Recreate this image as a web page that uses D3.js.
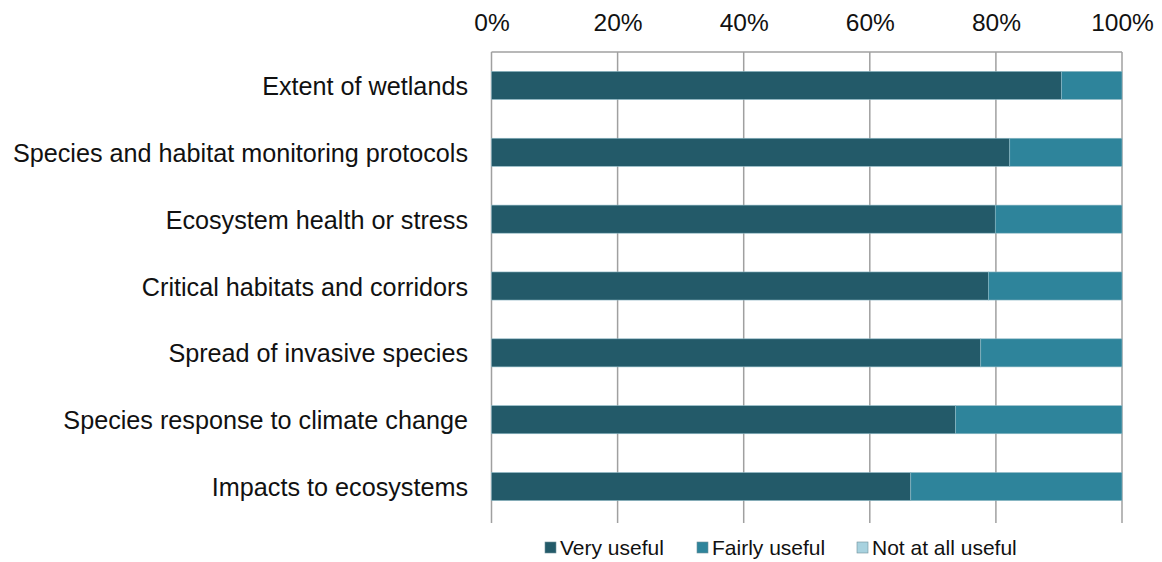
<!DOCTYPE html>
<html><head><meta charset="utf-8">
<script src="https://cdn.jsdelivr.net/npm/d3@7"></script>
<style>body{margin:0;background:#fff}svg{display:block}text{font-family:"Liberation Sans",Arial,sans-serif;fill:#111}</style>
</head><body>
<svg id="c" width="1162" height="562"></svg>
<script>
const categories = ["Extent of wetlands","Species and habitat monitoring protocols","Ecosystem health or stress","Critical habitats and corridors","Spread of invasive species","Species response to climate change","Impacts to ecosystems"];
const veryUseful = [90.4, 82.2, 79.9, 78.8, 77.6, 73.6, 66.5];
const fairlyUseful = [9.6, 17.8, 20.1, 21.2, 22.4, 26.4, 33.5];
const notAtAllUseful = [0, 0, 0, 0, 0, 0, 0];
const seriesNames = ["Very useful","Fairly useful","Not at all useful"];
const colors = ["#235a69","#2e849b","#a8d2df"];
const tickValues = [0,20,40,60,80,100];

const svg = d3.select("#c");
const pL = 491.5, pR = 1122, pT = 52, pB = 520;
const x = d3.scaleLinear().domain([0,100]).range([pL,pR]);
const y = d3.scaleBand().domain(categories).range([pT,pB]).paddingInner(0.58).paddingOuter(0.29);

// gridlines
svg.append("g").selectAll("line").data(tickValues).join("line")
  .attr("x1",d=>x(d)).attr("x2",d=>x(d)).attr("y1",pT).attr("y2",pB+3)
  .attr("stroke","#a0a0a0").attr("stroke-width",1.5);
svg.append("line").attr("x1",pL).attr("x2",pR).attr("y1",pT).attr("y2",pT)
  .attr("stroke","#a0a0a0").attr("stroke-width",1.5);

// top axis labels
const ax = d3.axisTop(x).tickValues(tickValues).tickFormat(d=>d+"%").tickSize(0).tickPadding(0);
const axg = svg.append("g").attr("transform",`translate(0,31)`).call(ax);
axg.select(".domain").remove();
axg.selectAll("text").attr("font-size",24.5).attr("font-family","Liberation Sans, Arial, sans-serif").attr("fill","#111").attr("dy","0");

// stacked data
const rows = categories.map((c,i)=>({cat:c, "Very useful":veryUseful[i], "Fairly useful":fairlyUseful[i], "Not at all useful":notAtAllUseful[i]}));
const stack = d3.stack().keys(seriesNames)(rows);
svg.append("g").selectAll("g").data(stack).join("g").attr("fill",(d,i)=>colors[i])
  .selectAll("rect").data(d=>d).join("rect")
  .attr("x",d=>x(d[0])).attr("width",d=>x(d[1])-x(d[0]))
  .attr("y",d=>y(d.data.cat)).attr("height",y.bandwidth())
  .attr("stroke",d=>(d[1]-d[0])>0?"#8fbac6":"none").attr("stroke-width",0.6);

// category labels
const ay = d3.axisLeft(y).tickSize(0).tickPadding(0);
const ayg = svg.append("g").attr("transform",`translate(468,0)`).call(ay);
ayg.select(".domain").remove();
ayg.selectAll("text").attr("font-size",25.2).attr("dy","0.38em").attr("font-family","Liberation Sans, Arial, sans-serif").attr("fill","#111");

// legend
const legX = [545, 697, 857];
const lg = svg.append("g").selectAll("g").data(seriesNames).join("g")
  .attr("transform",(d,i)=>`translate(${legX[i]},548)`);
lg.append("rect").attr("x",0).attr("y",-6).attr("width",11).attr("height",11)
  .attr("fill",(d,i)=>colors[i]).attr("stroke","#6f8f99").attr("stroke-width",0.6);
lg.append("text").attr("x",15).attr("y",0).attr("dy","0.35em").attr("font-size",21).text(d=>d);
</script>
</body></html>
